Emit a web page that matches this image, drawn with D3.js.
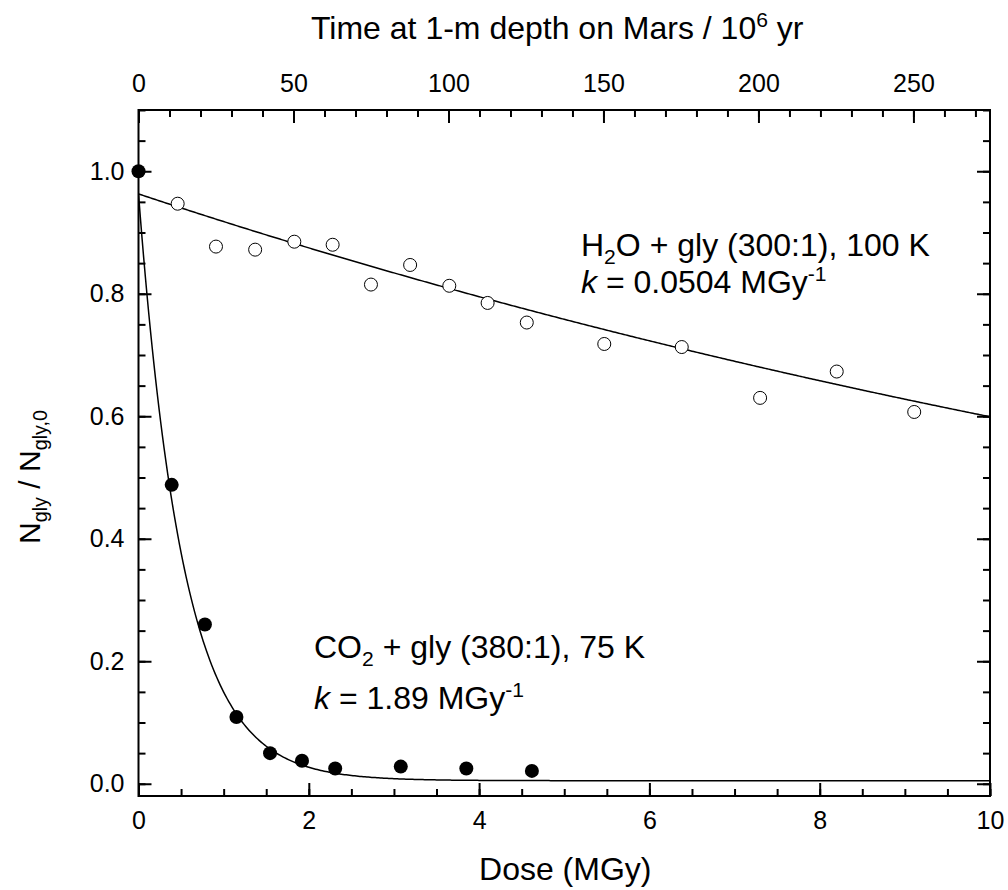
<!DOCTYPE html>
<html>
<head>
<meta charset="utf-8">
<script src="https://cdn.jsdelivr.net/npm/d3@7"></script>
<style>
  body { margin: 0; background: #fff; }
  svg text { font-family: "Liberation Sans", Arial, sans-serif; fill: #000; }
  .axis path.domain { display: none; }
  .axis line { stroke: #000; stroke-width: 2; }
</style>
</head>
<body>
<svg id="chart" width="1008" height="890"></svg>
<script>
// H2O + gly (300:1), 100 K  -- open circles
const h2oDose  = [0.46, 0.91, 1.37, 1.83, 2.28, 2.73, 3.19, 3.65, 4.10, 4.56, 5.47, 6.38, 7.30, 8.20, 9.11];
const h2oRatio = [0.947, 0.877, 0.872, 0.885, 0.880, 0.815, 0.847, 0.813, 0.785, 0.753, 0.718, 0.713, 0.630, 0.673, 0.607];

// CO2 + gly (380:1), 75 K -- filled circles
const co2Dose  = [0.0, 0.39, 0.78, 1.15, 1.545, 1.92, 2.31, 3.08, 3.85, 4.62];
const co2Ratio = [1.0, 0.488, 0.26, 0.109, 0.050, 0.0375, 0.025, 0.028, 0.025, 0.021];

// exponential fits  y = offset + amp * exp(-k * dose)
const h2oFit = { k: 0.0504, amp: 0.919, offset: 0.044 };
const co2Fit = { k: 1.89, amp: 0.958, offset: 0.005 };

const doseTicks = [0, 2, 4, 6, 8, 10];
const timeTicks = [0, 50, 100, 150, 200, 250];
const ratioTicks = [0.0, 0.2, 0.4, 0.6, 0.8, 1.0];

const svg = d3.select('#chart');
const L = 138.5, R = 990, T = 110, B = 796;

const x = d3.scaleLinear().domain([0, 10]).range([L, R]);
const xTop = d3.scaleLinear().domain([0, 274.7]).range([L, R]);
const y = d3.scaleLinear().domain([-0.02, 1.1]).range([B, T]);

const major = 13, minor = 7;

function minorTicks(lo, hi, step) {
  const n = Math.round((hi - lo) / step);
  return d3.range(n + 1).map(i => +(lo + i * step).toFixed(4));
}

// bottom
svg.append('g').attr('class', 'axis').attr('transform', `translate(0,${B})`)
  .call(d3.axisBottom(x).tickValues(minorTicks(0, 10, 0.5)).tickSize(-minor).tickFormat(''));
svg.append('g').attr('class', 'axis').attr('transform', `translate(0,${B})`)
  .call(d3.axisBottom(x).tickValues(doseTicks).tickSize(-major).tickPadding(15).tickFormat(d3.format('d')))
  .selectAll('text').style('font-size', '25px');

// top
svg.append('g').attr('class', 'axis').attr('transform', `translate(0,${T})`)
  .call(d3.axisTop(xTop).tickValues(minorTicks(0, 270, 10)).tickSize(-minor).tickFormat(''));
svg.append('g').attr('class', 'axis').attr('transform', `translate(0,${T})`)
  .call(d3.axisTop(xTop).tickValues(timeTicks).tickSize(-major).tickPadding(18).tickFormat(d3.format('d')))
  .selectAll('text').style('font-size', '25px');

// left
svg.append('g').attr('class', 'axis').attr('transform', `translate(${L},0)`)
  .call(d3.axisLeft(y).tickValues(minorTicks(0, 1.1, 0.05)).tickSize(-minor).tickFormat(''));
svg.append('g').attr('class', 'axis').attr('transform', `translate(${L},0)`)
  .call(d3.axisLeft(y).tickValues(ratioTicks).tickSize(-major).tickPadding(14).tickFormat(d3.format('.1f')))
  .selectAll('text').style('font-size', '25px');

// right
svg.append('g').attr('class', 'axis').attr('transform', `translate(${R},0)`)
  .call(d3.axisRight(y).tickValues(minorTicks(0, 1.1, 0.05)).tickSize(-minor).tickFormat(''));
svg.append('g').attr('class', 'axis').attr('transform', `translate(${R},0)`)
  .call(d3.axisRight(y).tickValues(ratioTicks).tickSize(-major).tickFormat(''));

// frame
svg.append('rect').attr('x', L).attr('y', T).attr('width', R - L).attr('height', B - T)
  .attr('fill', 'none').attr('stroke', '#000').attr('stroke-width', 2);

// fit curves
svg.append('clipPath').attr('id', 'plotclip').append('rect')
  .attr('x', L).attr('y', T).attr('width', R - L).attr('height', B - T);
const fitDose = d3.range(0, 10.001, 0.02);
const line = d3.line().x(d => x(d[0])).y(d => y(d[1]));
[h2oFit, co2Fit].forEach(f => {
  svg.append('path')
    .attr('clip-path', 'url(#plotclip)')
    .attr('d', line(fitDose.map(d => [d, f.offset + f.amp * Math.exp(-f.k * d)])))
    .attr('fill', 'none').attr('stroke', '#000').attr('stroke-width', 1.5);
});

// points
svg.append('g').selectAll('circle').data(d3.zip(h2oDose, h2oRatio)).join('circle')
  .attr('cx', d => x(d[0])).attr('cy', d => y(d[1])).attr('r', 6.5)
  .attr('fill', '#fff').attr('stroke', '#000').attr('stroke-width', 1);
svg.append('g').selectAll('circle').data(d3.zip(co2Dose, co2Ratio)).join('circle')
  .attr('cx', d => x(d[0])).attr('cy', d => y(d[1])).attr('r', 7)
  .attr('fill', '#000');

// text with sub/superscripts
function addText(px, py, parts, size) {
  const t = svg.append('text').attr('x', px).attr('y', py).style('font-size', size + 'px');
  let shift = 0;
  parts.forEach(p => {
    const target = p.sub ? size * 0.24 : p.sup ? -size * 0.38 : 0;
    const s = t.append('tspan').text(p.t).attr('dy', target - shift);
    if (p.sub || p.sup) s.style('font-size', (size * 0.66) + 'px');
    if (p.it) s.style('font-style', 'italic');
    shift = target;
  });
  return t;
}

addText(581, 256, [{ t: 'H' }, { t: '2', sub: true }, { t: 'O + gly (300:1), 100 K' }], 32);
addText(581, 293, [{ t: 'k', it: true }, { t: ' = 0.0504 MGy' }, { t: '-1', sup: true }], 32);
addText(314, 658, [{ t: 'CO' }, { t: '2', sub: true }, { t: ' + gly (380:1), 75 K' }], 32);
addText(314, 709, [{ t: 'k', it: true }, { t: ' = 1.89 MGy' }, { t: '-1', sup: true }], 32);

// axis titles
svg.append('text').attr('x', (L + R) / 2 + 1).attr('y', 880).attr('text-anchor', 'middle')
  .style('font-size', '32px').text('Dose (MGy)');

addText(0, 39, [{ t: 'Time at 1-m depth on Mars / 10' }, { t: '6', sup: true }, { t: ' yr' }], 32)
  .attr('x', (L + R) / 2 - 7).attr('text-anchor', 'middle');

addText(0, 0, [{ t: 'N' }, { t: 'gly', sub: true }, { t: ' / N' }, { t: 'gly,0', sub: true }], 30)
  .attr('text-anchor', 'middle')
  .attr('transform', 'translate(40,477) rotate(-90)');
</script>
</body>
</html>
